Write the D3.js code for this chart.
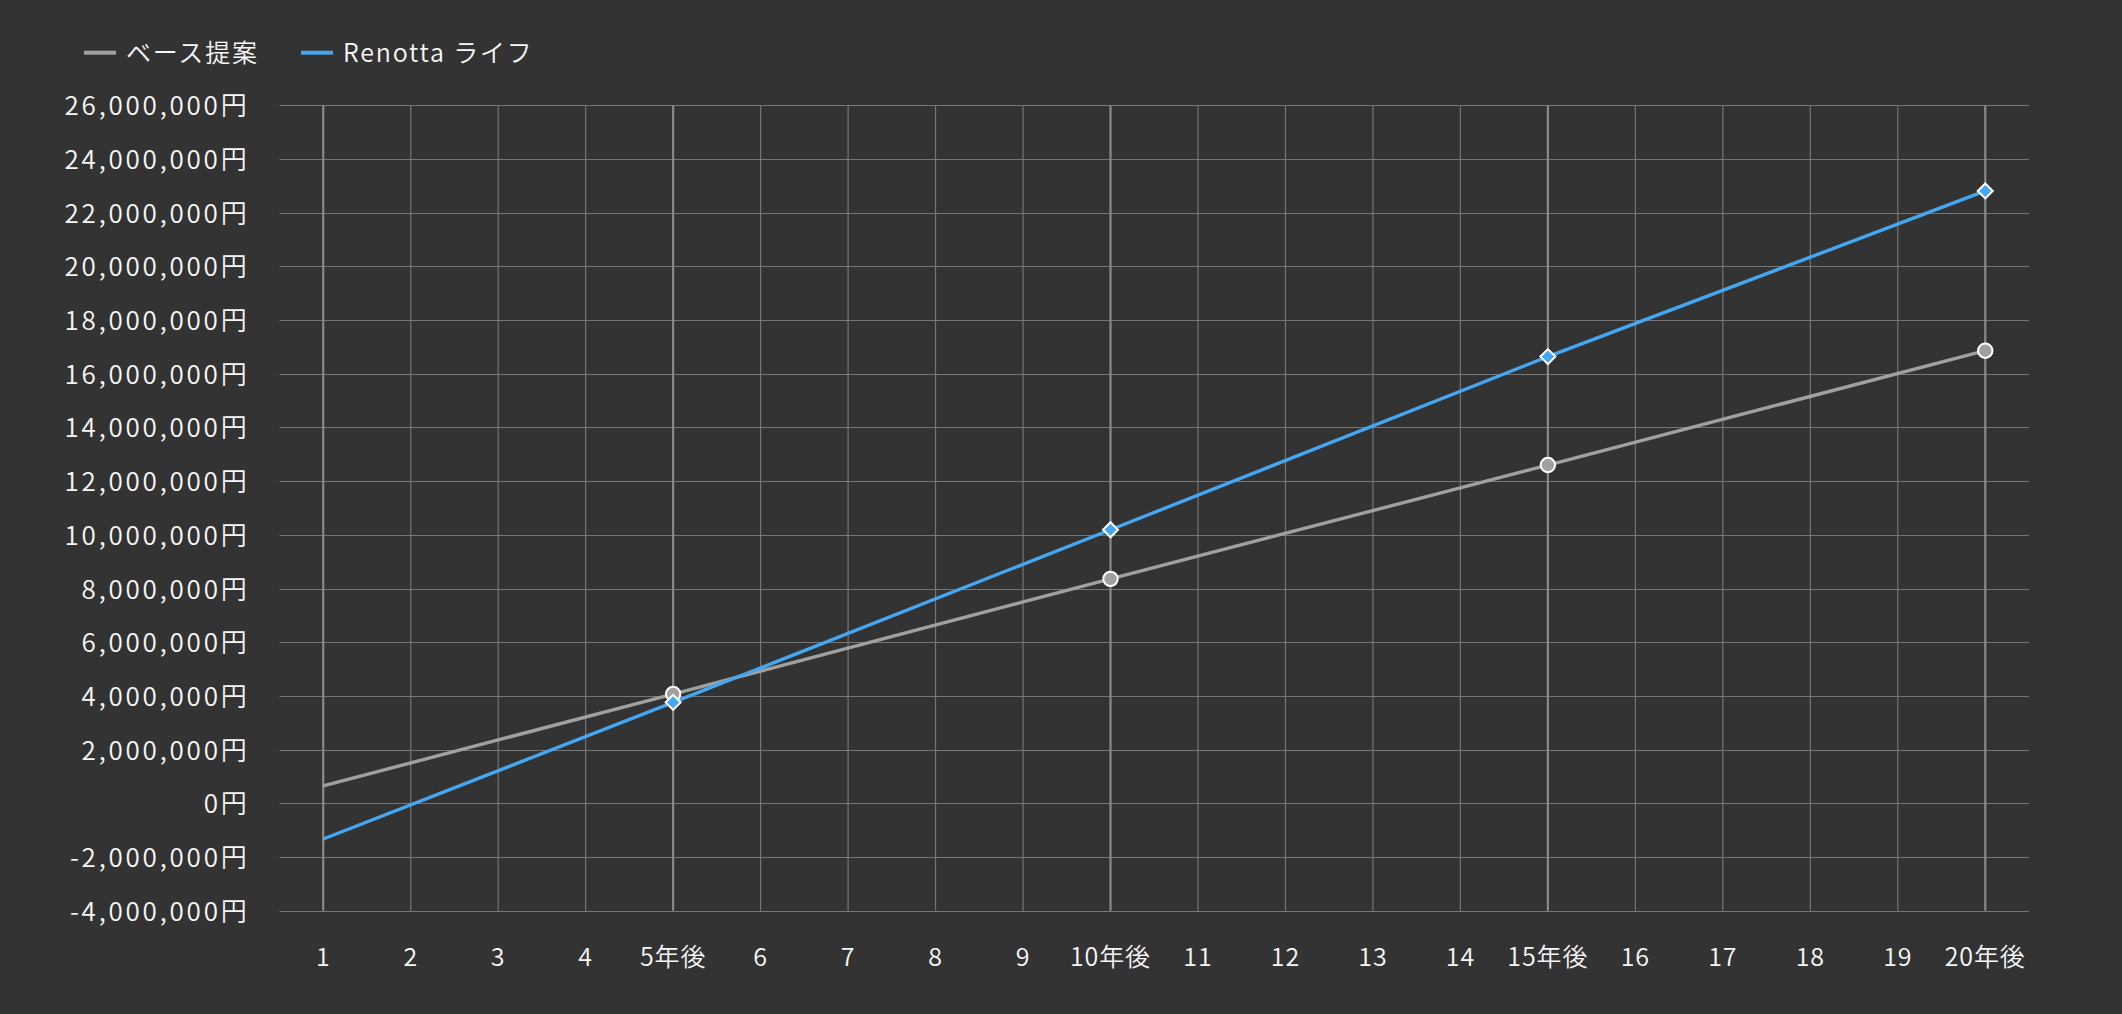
<!DOCTYPE html>
<html><head><meta charset="utf-8">
<script src="https://cdn.jsdelivr.net/npm/d3@7"></script>
<style>
html,body{margin:0;padding:0;background:#333333;}
svg{display:block;}
text{font-family:"Noto Sans CJK JP","Noto Sans",sans-serif;fill:#f7f7f7;font-weight:350;}
</style></head>
<body>
<svg id="chart" width="2122" height="1014"></svg>
<script>
// ---- data ----
const years = [1, 5, 10, 15, 20];
const xTickValues = [1,2,3,4,5,6,7,8,9,10,11,12,13,14,15,16,17,18,19,20];
const xTickLabels = ["1","2","3","4","5年後","6","7","8","9","10年後","11","12","13","14","15年後","16","17","18","19","20年後"];
const majorYears = [1, 5, 10, 15, 20];
const baseValues = [650000, 4070000, 8360000, 12600000, 16860000];
const renottaValues = [-1330000, 3760000, 10190000, 16640000, 22810000];
const markerYears = [5, 10, 15, 20];
const yTicks = [-4000000,-2000000,0,2000000,4000000,6000000,8000000,10000000,12000000,14000000,16000000,18000000,20000000,22000000,24000000,26000000];
const seriesNames = ["ベース提案", "Renotta ライフ"];
const seriesColors = ["#a0a0a0", "#45a6f2"];

// ---- layout ----
const svg = d3.select("#chart");
const x = d3.scaleLinear().domain([0.5, 20.5]).range([279.5, 2029]);
const y = d3.scaleLinear().domain([-4000000, 26000000]).range([910.7, 105.3]);
const loc = d3.formatLocale({decimal:".", thousands:",", grouping:[3], currency:["",""], minus:"-"});
const fmt = loc.format(",");

// horizontal grid
svg.append("g").selectAll("line").data(yTicks).join("line")
  .attr("x1", x.range()[0]).attr("x2", x.range()[1])
  .attr("y1", d => Math.round(y(d)) + 0.5).attr("y2", d => Math.round(y(d)) + 0.5)
  .attr("stroke", "#767676").attr("stroke-width", 1.2);

// vertical grid
svg.append("g").selectAll("line").data(xTickValues).join("line")
  .attr("x1", d => x(d)).attr("x2", d => x(d))
  .attr("y1", y(26000000)).attr("y2", y(-4000000))
  .attr("stroke", d => majorYears.includes(d) ? "#8a8a8a" : "#767676")
  .attr("stroke-width", d => majorYears.includes(d) ? 2.2 : 1.2);

// y labels
svg.append("g").selectAll("text").data(yTicks).join("text")
  .attr("x", 249.5).attr("y", d => y(d) + 10)
  .attr("text-anchor", "end")
  .style("font-size", "26px").style("letter-spacing", "2.8px")
  .text(d => fmt(d) + "円");

// x labels
svg.append("g").selectAll("text").data(xTickValues).join("text")
  .attr("x", d => x(d)).attr("y", 965.5)
  .attr("text-anchor", "middle")
  .style("font-size", "25px").style("letter-spacing", "0.9px")
  .text((d, i) => xTickLabels[i]);

// lines
const series = [baseValues, renottaValues];
const line = d3.line().x(d => x(d[0])).y(d => y(d[1]));
series.forEach((vals, si) => {
  svg.append("path")
    .datum(years.map((yr, i) => [yr, vals[i]]))
    .attr("fill", "none").attr("stroke", seriesColors[si])
    .attr("stroke-width", 3.4).attr("stroke-linejoin", "round")
    .attr("d", line);
});

// markers: base circles
const basePts = years.map((yr, i) => [yr, baseValues[i]]).filter(d => markerYears.includes(d[0]));
svg.append("g").selectAll("circle").data(basePts).join("circle")
  .attr("cx", d => x(d[0])).attr("cy", d => y(d[1])).attr("r", 7.2)
  .attr("fill", seriesColors[0]).attr("stroke", "#ffffff").attr("stroke-width", 2);

// markers: renotta diamonds
const renPts = years.map((yr, i) => [yr, renottaValues[i]]).filter(d => markerYears.includes(d[0]));
svg.append("g").selectAll("path").data(renPts).join("path")
  .attr("transform", d => `translate(${x(d[0])},${y(d[1])})`)
  .attr("d", "M0,-7.5L7.5,0L0,7.5L-7.5,0Z")
  .attr("fill", seriesColors[1]).attr("stroke", "#ffffff").attr("stroke-width", 2);

// legend
const legendX = [84, 301];
const lg = svg.append("g");
seriesNames.forEach((name, i) => {
  lg.append("line").attr("x1", legendX[i]).attr("x2", legendX[i] + 32)
    .attr("y1", 52.7).attr("y2", 52.7)
    .attr("stroke", seriesColors[i]).attr("stroke-width", 4);
  lg.append("text").attr("x", legendX[i] + 42).attr("y", 61.5)
    .style("font-size", "25px").style("letter-spacing", "1.8px")
    .text(name);
});
</script>
</body></html>
